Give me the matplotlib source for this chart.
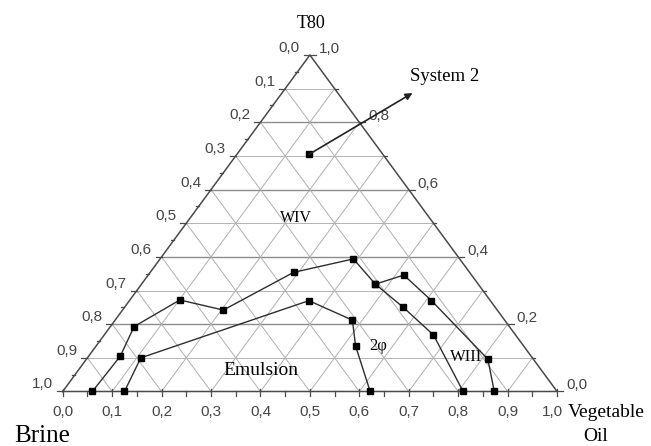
import numpy as np
import matplotlib.pyplot as plt

# compositions as (vegetable oil fraction, T80 fraction); brine = 1 - oil - T80
curve_a_oil = [0.06, 0.064, 0.048, 0.101, 0.204, 0.29, 0.391, 0.473, 0.564, 0.666, 0.81]
curve_a_t80 = [0.0, 0.105, 0.193, 0.272, 0.242, 0.354, 0.394, 0.319, 0.25, 0.168, 0.0]
curve_b_oil = [0.473, 0.517, 0.611, 0.812, 0.873]
curve_b_t80 = [0.319, 0.346, 0.27, 0.096, 0.0]
curve_c_oil = [0.125, 0.108, 0.363, 0.48, 0.525, 0.622]
curve_c_t80 = [0.0, 0.10, 0.27, 0.212, 0.135, 0.0]
system2_oil, system2_t80 = 0.146, 0.705
arrow_tip_oil, arrow_tip_t80 = 0.264, 0.887

left_ticks = np.round(np.arange(0, 1.01, 0.1), 2)    # brine, apex -> bottom left
bottom_ticks = np.round(np.arange(0, 1.01, 0.1), 2)  # vegetable oil
right_ticks = np.round(np.arange(0, 1.01, 0.2), 2)   # T80

SERIF = "Liberation Serif"
SANS = "Liberation Sans"
TICK_COLOR = "#454545"


def to_xy(oil, t80):
    oil = np.asarray(oil, dtype=float)
    t80 = np.asarray(t80, dtype=float)
    return oil + t80 / 2, t80


fig = plt.figure(figsize=(6.51, 4.46), dpi=100)
ax = fig.add_axes([0, 0, 1, 1])
ax.set_xlim(-0.1268, 1.190)
ax.set_ylim(-0.162, 1.1635)
ax.axis("off")

# size of one pixel in data units
px = (1.190 + 0.1268) / 651
py = (1.1635 + 0.162) / 446

# grid: horizontal lines (constant T80) and the two diagonal families
for v in np.round(np.arange(0.1, 1.0, 0.1), 2):
    major = round(v * 10) % 2 == 0
    ax.plot([v / 2, 1 - v / 2], [v, v], color="#8c8c8c" if major else "#b4b4b4",
            lw=1.0 if major else 0.7, zorder=1)
    # constant oil
    ax.plot([v, v + (1 - v) / 2], [0, 1 - v], color="#b0b0b0", lw=0.7, zorder=1)
    # constant brine
    ax.plot([v, v / 2], [0, v], color="#b0b0b0", lw=0.7, zorder=1)

# triangle frame
ax.plot([0, 1, 0.5, 0], [0, 0, 1, 0], color="#4a4a4a", lw=1.1, zorder=2)

# bottom axis ticks and labels
for v in np.round(np.arange(0, 1.001, 0.05), 2):
    is_major = round(v * 100) % 10 == 0
    ax.plot([v, v], [2 * py if is_major else 0, -5 * py], color="#4a4a4a", lw=0.9, zorder=2)
for v in bottom_ticks:
    shift = -5 if v == 1.0 else 0
    ax.annotate(f"{v:.1f}".replace(".", ","), (v, 0), xytext=(shift, -21),
                textcoords="offset pixels", ha="center", va="center",
                fontsize=11, family=SANS, color=TICK_COLOR)

# left axis (brine): ticks point left, horizontally
for v in np.round(np.arange(0, 1.001, 0.05), 2):
    t = 1 - v
    length = 6 if round(v * 100) % 10 == 0 else 3
    ax.plot([t / 2, t / 2 - length * px], [t, t], color="#4a4a4a", lw=0.9, zorder=2)
for v in left_ticks:
    t = 1 - v
    ax.annotate(f"{v:.1f}".replace(".", ","), (t / 2, t), xytext=(-10, 7),
                textcoords="offset pixels", ha="right", va="center",
                fontsize=11, family=SANS, color=TICK_COLOR)

# right axis (T80)
for v in np.round(np.arange(0, 1.001, 0.1), 2):
    length = 6 if round(v * 10) % 2 == 0 else 3
    ax.plot([1 - v / 2, 1 - v / 2 + length * px], [v, v], color="#4a4a4a", lw=0.9, zorder=2)
for v in right_ticks:
    ax.annotate(f"{v:.1f}".replace(".", ","), (1 - v / 2, v), xytext=(9, 6),
                textcoords="offset pixels", ha="left", va="center",
                fontsize=11, family=SANS, color=TICK_COLOR)

# phase boundaries
for oil, t80 in [(curve_a_oil, curve_a_t80), (curve_b_oil, curve_b_t80),
                 (curve_c_oil, curve_c_t80)]:
    x, y = to_xy(oil, t80)
    ax.plot(x, y, color="#2e2e2e", lw=1.0, marker="s", markersize=4.5,
            markerfacecolor="black", markeredgecolor="black", zorder=4)

# System 2 composition and its arrow
sx, sy = to_xy(system2_oil, system2_t80)
ax.plot(sx, sy, "s", color="black", markersize=4.5, zorder=4)
tx, ty = to_xy(arrow_tip_oil, arrow_tip_t80)
ax.annotate("", xy=(tx, ty), xytext=(sx, sy),
            arrowprops=dict(arrowstyle="-|>", color="#222222", lw=1.2,
                            mutation_scale=10, shrinkA=0, shrinkB=0), zorder=5)

# region and axis names
ax.text(0.772, 0.935, "System 2", family=SERIF, fontsize=13.5, ha="center", va="center")
ax.text(0.502, 1.094, "T80", family=SERIF, fontsize=13, ha="center", va="center")
ax.text(0.472, 0.516, "WIV", family=SERIF, fontsize=11.5, ha="center", va="center")
ax.text(0.401, 0.061, "Emulsion", family=SERIF, fontsize=14, ha="center", va="center")
ax.text(0.638, 0.135, "2φ", family=SERIF, fontsize=12, ha="center", va="center")
ax.text(0.816, 0.103, "WIII", family=SERIF, fontsize=12, ha="center", va="center", zorder=3)
ax.text(-0.042, -0.150, "Brine", family=SERIF, fontsize=18, ha="center", va="baseline")
ax.text(1.021, -0.063, "Vegetable", family=SERIF, fontsize=14, ha="left", va="center")
ax.text(1.077, -0.135, "Oil", family=SERIF, fontsize=14, ha="center", va="center")

plt.savefig("out.png", dpi=100)
plt.close()
